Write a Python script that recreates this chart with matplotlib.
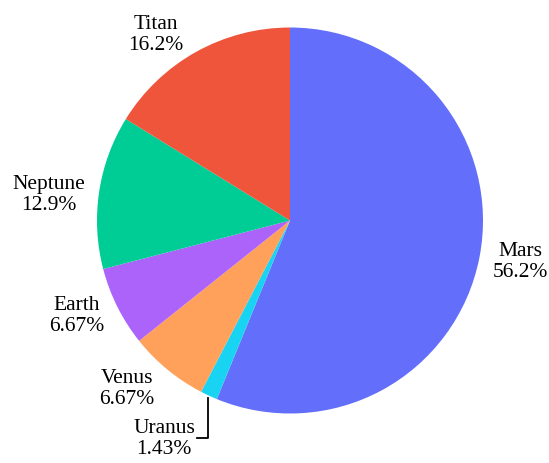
import matplotlib.pyplot as plt

planets = ['Mars', 'Uranus', 'Venus', 'Earth', 'Neptune', 'Titan']
counts = [118, 3, 14, 14, 27, 34]
colors = ['#636efa', '#19d3f3', '#ffa15a', '#ab63fa', '#00cc96', '#ef553b']

W, H = 549, 463
fig = plt.figure(figsize=(W / 100, H / 100), dpi=100)

# pie centre and radius in pixels
cx, cy, r = 290, 220.5, 193
ax = fig.add_axes([(cx - r) / W, (H - cy - r) / H, 2 * r / W, 2 * r / H])
wedges, _ = ax.pie(counts, colors=colors, startangle=90, counterclock=False,
                   radius=1, wedgeprops=dict(linewidth=0))
ax.set_xlim(-1, 1)
ax.set_ylim(-1, 1)
ax.set_aspect('equal')

total = sum(counts)
label_pos = {'Mars': (520, 262), 'Uranus': (164, 439), 'Venus': (127, 389),
             'Earth': (77, 316), 'Neptune': (49, 195), 'Titan': (156, 35)}
for name, c in zip(planets, counts):
    pct = 100 * c / total
    s = f'{pct:.3g}%'
    x, y = label_pos[name]
    fig.text(x / W, 1 - y / H, f'{name}\n{s}', ha='center', va='center',
             fontsize=15.5, family='Liberation Serif', linespacing=1.1)

# leader line for the small Uranus slice
fig.add_artist(plt.Line2D([208 / W, 208 / W, 197 / W],
                          [1 - 398 / H, 1 - 438 / H, 1 - 438 / H],
                          color='black', linewidth=1.3))

plt.savefig('out.png', dpi=100)
